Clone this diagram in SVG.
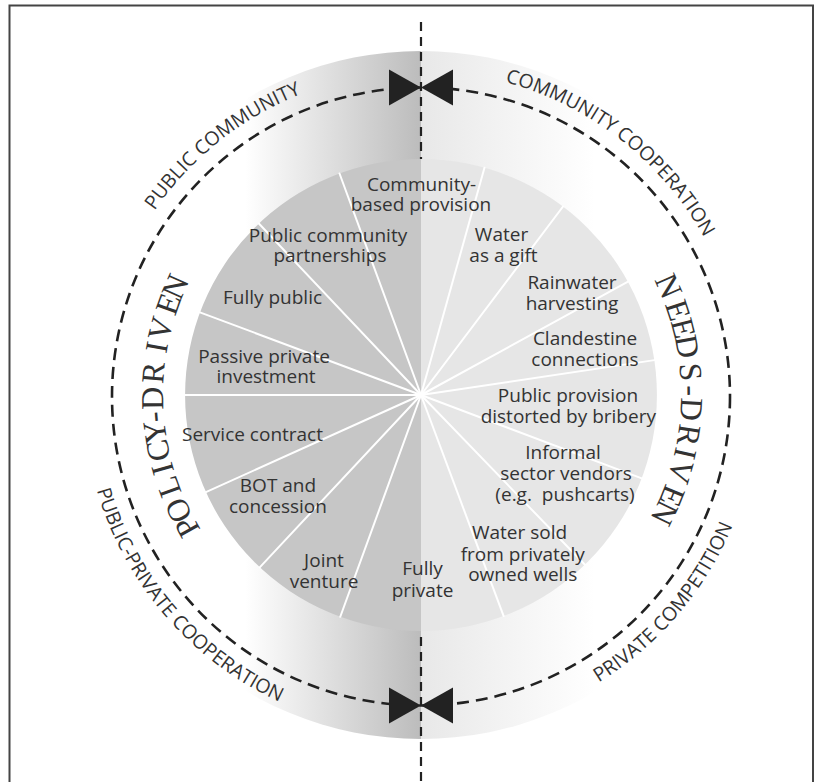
<svg xmlns="http://www.w3.org/2000/svg" width="827" height="782" viewBox="0 0 827 782">
<defs>
<linearGradient id="gL" gradientUnits="userSpaceOnUse" x1="421" y1="0" x2="245" y2="0"><stop offset="0" stop-color="#bcbcbc"/><stop offset="1" stop-color="#ffffff"/></linearGradient>
<linearGradient id="gR" gradientUnits="userSpaceOnUse" x1="421" y1="0" x2="595" y2="0"><stop offset="0" stop-color="#e8e8e8"/><stop offset="1" stop-color="#ffffff"/></linearGradient>
<path id="pPC" d="M97.11,386.52 A324,324 0 0 1 485.6,77.51"/>
<path id="pCC" d="M353.36,78.14 A324,324 0 0 1 744.79,383.41"/>
<path id="pPP" d="M101.8,283.84 A338,338 0 0 0 484.33,727.01"/>
<path id="pPR" d="M359.4,727.34 A338,338 0 0 0 739.61,282.17"/>
<path id="pPol" d="M332.76,637.44 A258,258 0 0 1 332.76,152.56"/>
<path id="pNeed" d="M509.93,150.68 A260,260 0 0 1 509.93,639.32"/>
</defs>
<style>
.lbl{font-family:"Open Sans","Noto Sans",sans-serif;font-size:19px;fill:#333;text-anchor:middle}
.arc{font-family:"Open Sans","Noto Sans",sans-serif;font-size:19.5px;fill:#333;text-anchor:middle}
.big{font-family:"Liberation Serif",serif;font-size:32px;fill:#333}
.spoke{stroke:#fff;stroke-width:2;stroke-linecap:round}
.dash{fill:none;stroke:#222;stroke-width:2.6;stroke-dasharray:12 7}
.vdash{fill:none;stroke:#222;stroke-width:2.2;stroke-dasharray:9 6}
.bow{fill:#222}
</style>
<rect width="827" height="782" fill="#fff"/>
<path d="M9.5,782 V5.5 H813 V782" fill="none" stroke="#444" stroke-width="2"/>

<g id="background">
<path d="M421,51 A344,344 0 0 0 421,739 Z" fill="url(#gL)"/>
<path d="M421,51 A344,344 0 0 1 421,739 Z" fill="url(#gR)"/>
<line class="vdash" x1="421" y1="22" x2="421" y2="782"/>
<path d="M421,159 A236,236 0 0 0 421,631 Z" fill="#c6c6c6"/>
<path d="M421,159 A236,236 0 0 1 421,631 Z" fill="#e6e6e6"/>
</g>

<g id="spokes">
<line class="spoke" x1="421" y1="395" x2="339.51" y2="173.52"/>
<line class="spoke" x1="421" y1="395" x2="258.85" y2="223.53"/>
<line class="spoke" x1="421" y1="395" x2="199.95" y2="312.35"/>
<line class="spoke" x1="421" y1="395" x2="185" y2="395"/>
<line class="spoke" x1="421" y1="395" x2="205.91" y2="492.12"/>
<line class="spoke" x1="421" y1="395" x2="259.75" y2="567.32"/>
<line class="spoke" x1="421" y1="395" x2="340.28" y2="616.77"/>
<line class="spoke" x1="421" y1="395" x2="484.47" y2="167.69"/>
<line class="spoke" x1="421" y1="395" x2="563.03" y2="206.52"/>
<line class="spoke" x1="421" y1="395" x2="628.01" y2="281.67"/>
<line class="spoke" x1="421" y1="395" x2="654.41" y2="360.12"/>
<line class="spoke" x1="421" y1="395" x2="641.76" y2="478.42"/>
<line class="spoke" x1="421" y1="395" x2="584.94" y2="564.76"/>
<line class="spoke" x1="421" y1="395" x2="503.65" y2="616.05"/>
</g>

<g id="connectors">
<circle class="dash" cx="421" cy="396.5" r="309"/>
<polygon class="bow" points="389,69.5 389,105.5 421,87.5"/>
<polygon class="bow" points="453,69.5 453,105.5 421,87.5"/>
<polygon class="bow" points="389,687.5 389,723.5 421,705.5"/>
<polygon class="bow" points="453,687.5 453,723.5 421,705.5"/>
</g>

<g id="n-community-based"><text class="lbl" x="421.5" y="191">Community-</text><text class="lbl" x="421" y="211">based provision</text></g>
<g id="n-public-community-partnerships"><text class="lbl" x="328" y="242">Public community</text><text class="lbl" x="330" y="262">partnerships</text></g>
<g id="n-fully-public"><text class="lbl" x="272.5" y="304">Fully public</text></g>
<g id="n-passive-private"><text class="lbl" x="264" y="363">Passive private</text><text class="lbl" x="266" y="383">investment</text></g>
<g id="n-service-contract"><text class="lbl" x="252.5" y="441">Service contract</text></g>
<g id="n-bot"><text class="lbl" x="278" y="492">BOT and</text><text class="lbl" x="278" y="512.5">concession</text></g>
<g id="n-joint-venture"><text class="lbl" x="324" y="567">Joint</text><text class="lbl" x="324" y="588">venture</text></g>
<g id="n-fully-private"><text class="lbl" x="422.5" y="575">Fully</text><text class="lbl" x="422.5" y="596.5">private</text></g>
<g id="n-water-gift"><text class="lbl" x="501.5" y="241">Water</text><text class="lbl" x="503.5" y="262">as a gift</text></g>
<g id="n-rainwater"><text class="lbl" x="572" y="288.5">Rainwater</text><text class="lbl" x="572" y="310">harvesting</text></g>
<g id="n-clandestine"><text class="lbl" x="585" y="345">Clandestine</text><text class="lbl" x="585" y="366">connections</text></g>
<g id="n-bribery"><text class="lbl" x="568" y="402">Public provision</text><text class="lbl" x="568.3" y="423">distorted by bribery</text></g>
<g id="n-informal"><text class="lbl" x="563" y="458.5">Informal</text><text class="lbl" x="566" y="479.5">sector vendors</text><text class="lbl" x="565" y="501" xml:space="preserve">(e.g.  pushcarts)</text></g>
<g id="n-wells"><text class="lbl" x="519.5" y="538.5">Water sold</text><text class="lbl" x="522.7" y="560.5">from privately</text><text class="lbl" x="522.7" y="581">owned wells</text></g>

<g id="quadrant-labels">
<text class="arc"><textPath href="#pPC" startOffset="50%">PUBLIC COMMUNITY</textPath></text>
<text class="arc"><textPath href="#pCC" startOffset="50%">COMMUNITY COOPERATION</textPath></text>
<text class="arc"><textPath href="#pPP" startOffset="50%">PUBLIC-PRIVATE COOPERATION</textPath></text>
<text class="arc"><textPath href="#pPR" startOffset="50%">PRIVATE COMPETITION</textPath></text>
</g>
<g id="side-labels">
<text class="big"><textPath href="#pPol" startOffset="173.7"><tspan dx="0 -2.45 3.47 2.89 2 -4.22 1.12 1.12 2.58 8.8 1.12 3.47 -3.33">POLICY-DRIVEN</tspan></textPath></text>
<text class="big"><textPath href="#pNeed" startOffset="198.25"><tspan dx="0 3.47 -1.56 -3.33 4.35 3.77 1.12 2.58 2 1.12 3.47 -3.33">NEEDS-DRIVEN</tspan></textPath></text>
</g>
</svg>
